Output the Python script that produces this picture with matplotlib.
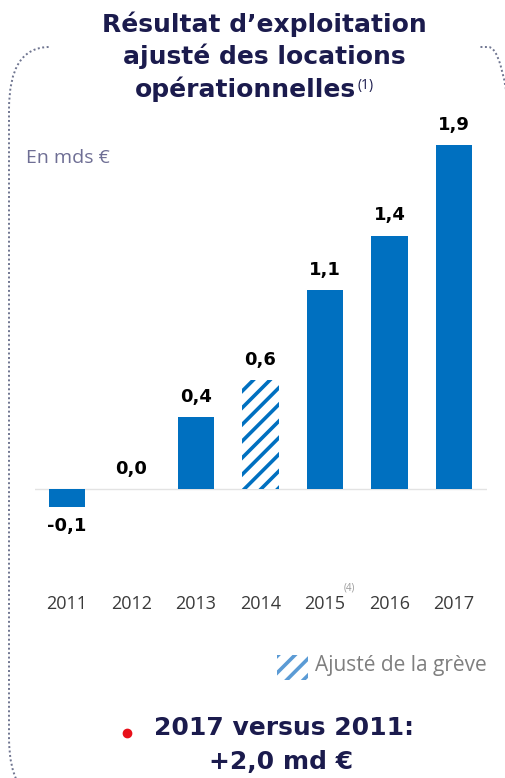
import matplotlib.pyplot as plt
from matplotlib.lines import Line2D
from matplotlib.patches import FancyBboxPatch, Rectangle
from matplotlib.transforms import blended_transform_factory, offset_copy

# Données
annees = ['2011', '2012', '2013', '2014', '2015', '2016', '2017']
valeurs = [-0.1, 0.0, 0.4, 0.6, 1.1, 1.4, 1.9]
etiquettes = ['-0,1', '0,0', '0,4', '0,6', '1,1', '1,4', '1,9']
hachure = [False, False, False, True, False, False, False]

bleu = '#0070C0'
marine = '#1B1B4D'
gras = ['DejaVu Sans']

plt.rcParams['font.family'] = ['Open Sans', 'DejaVu Sans']
plt.rcParams['hatch.linewidth'] = 2.6

W, H = 506, 778
fig = plt.figure(figsize=(W / 100, H / 100), dpi=100)

def fy(py):
    return 1 - py / H

# cadre pointillé arrondi
cadre = FancyBboxPatch((9 / W, fy(800)), 520 / W, 753 / H,
                       boxstyle='round,pad=0,rounding_size=0.08',
                       transform=fig.transFigure, fill=False,
                       edgecolor='#6F7590', linestyle=(0, (1, 1.3)), linewidth=1.4)
fig.patches.append(cadre)
# masque le haut du cadre derrière le titre
fig.patches.append(Rectangle((50 / W, fy(60)), 430 / W, 25 / H, transform=fig.transFigure,
                             facecolor='white', edgecolor='none'))

# titre
titre = ['Résultat d\u2019exploitation', 'ajusté des locations', 'opérationnelles']
titre_x = [264, 264, 245]
lignes = []
for i, t in enumerate(titre):
    lignes.append(fig.text(titre_x[i] / W, fy(24 + 32.5 * i), t, ha='center', va='center',
                           fontsize=18, fontweight='bold', color=marine, family=gras))
bb = lignes[-1].get_window_extent(renderer=fig.canvas.get_renderer())
fig.text(bb.x1 / W + 2 / W, fy(85), '(1)', ha='left', va='center', fontsize=10, color=marine)

fig.text(26 / W, fy(158), 'En mds €', ha='left', va='center', fontsize=14, color='#6E6E94')

# axes du graphique
ax = fig.add_axes([35 / W, fy(520), 452 / W, 380 / H])
ax.set_xlim(-0.496, 6.51)
ax.set_ylim(-0.171, 1.928)
ax.axis('off')

x = list(range(len(annees)))
for xi, v, h in zip(x, valeurs, hachure):
    if h:
        ax.bar(xi, v, width=0.57, color='white', edgecolor=bleu, hatch='//', linewidth=0)
    else:
        ax.bar(xi, v, width=0.57, color=bleu, linewidth=0)
ax.axhline(0, color='#E3E3E3', linewidth=1, zorder=0)

for xi, v, lab in zip(x, valeurs, etiquettes):
    if v < 0:
        tr = offset_copy(ax.transData, fig=fig, x=0, y=-7, units='points')
        ax.text(xi, v, lab, ha='center', va='top', fontsize=13, fontweight='bold',
                family=gras, transform=tr)
    else:
        tr = offset_copy(ax.transData, fig=fig, x=0, y=8, units='points')
        ax.text(xi, v, lab, ha='center', va='bottom', fontsize=13, fontweight='bold',
                family=gras, transform=tr)

# années
trx = blended_transform_factory(ax.transData, fig.transFigure)
for xi, a in zip(x, annees):
    ax.text(xi, fy(604), a, ha='center', va='center', fontsize=13, color='#3A3A3A', transform=trx)
ax.text(4.28, fy(588), '(4)', ha='left', va='center', fontsize=7, color='#999999', transform=trx)

# légende
fig.patches.append(Rectangle((277 / W, fy(680)), 31 / W, 25 / H, transform=fig.transFigure,
                             facecolor='white', edgecolor='#5B9BD5', hatch='//', linewidth=0))
fig.text(315 / W, fy(666), 'Ajusté de la grève', ha='left', va='center', fontsize=15, color='#7F7F7F')

# conclusion
fig.add_artist(Line2D([127 / W], [fy(733)], marker='o', markersize=6, color='#E8101A',
                      transform=fig.transFigure))
fig.text(284 / W, fy(728), '2017 versus 2011:', ha='center', va='center',
         fontsize=18, fontweight='bold', color=marine, family=gras)
fig.text(281 / W, fy(762), '+2,0 md €', ha='center', va='center',
         fontsize=18, fontweight='bold', color=marine, family=gras)

fig.savefig('out.png', dpi=100)
